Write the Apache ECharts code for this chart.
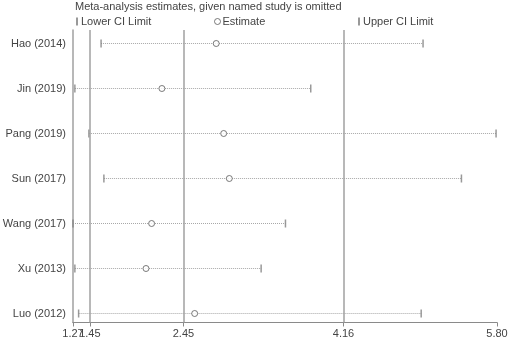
<!DOCTYPE html>
<html>
<head>
<meta charset="utf-8">
<script src="https://cdn.jsdelivr.net/npm/echarts@6/dist/echarts.min.js"></script>
<style>
  html, body { margin: 0; padding: 0; background: #fff; }
  #forest { width: 512px; height: 341px; }
</style>
</head>
<body>
<div id="forest"></div>
<script>
// studies, top to bottom
var studies = ['Hao (2014)', 'Jin (2019)', 'Pang (2019)', 'Sun (2017)', 'Wang (2017)', 'Xu (2013)', 'Luo (2012)'];
var lowerCI = [1.57, 1.29, 1.44, 1.60, 1.27, 1.29, 1.33];
var estimate = [2.80, 2.22, 2.88, 2.94, 2.11, 2.05, 2.57];
var upperCI = [5.01, 3.81, 5.79, 5.42, 3.54, 3.28, 4.99];
// x ticks shown on the axis
var xTicks = [1.27, 1.45, 2.45, 4.16, 5.80];
// reference lines
var refLines = [1.45, 2.45, 4.16];

$chart = echarts.init(document.getElementById('forest'), null, {renderer: 'canvas'});

var rows = studies.map(function(s, i) { return i; });
var txt = '#444';
var gry = '#a0a0a0';
var font = 'Arial, "Liberation Sans", sans-serif';

function pair(vals) {
    return vals.map(function(v, i) { return [v, i]; });
}

function xAxisOf(labels, showLine) {
    // labels 1.27 and 1.45 overlap, so the second one sits on its own axis
    return {
        type: 'value', min: 1.27, max: 5.80, position: 'bottom',
        axisLine: {show: showLine, onZero: false, lineStyle: {color: '#8a8a8a', width: 1.2}},
        axisTick: {show: showLine, length: 4, customValues: xTicks, lineStyle: {color: '#8a8a8a'}},
        axisLabel: {customValues: labels, color: txt, fontSize: 11, fontFamily: font, margin: 6,
                    showMinLabel: true, showMaxLabel: true, hideOverlap: false,
                    formatter: function(v) { return v.toFixed(2); }},
        splitLine: {show: false}
    };
}

var option = {
    animation: false,
    backgroundColor: '#fff',
    title: {
        text: 'Meta-analysis estimates, given named study is omitted',
        left: 70, top: -4,
        textStyle: {fontSize: 11, fontWeight: 'normal', color: txt, fontFamily: font}
    },
    legend: [
        {data: ['Lower CI Limit'], left: 71, top: 11, itemWidth: 2, itemHeight: 8,
         textStyle: {fontSize: 11, color: txt, fontFamily: font, padding: [0, 0, 0, -2]}},
        {data: ['Estimate'], left: 209, top: 11, itemWidth: 6, itemHeight: 6,
         itemStyle: {borderWidth: 1},
         textStyle: {fontSize: 11, color: txt, fontFamily: font, padding: [0, 0, 0, -3]}},
        {data: ['Upper CI Limit'], left: 353, top: 11, itemWidth: 2, itemHeight: 8,
         textStyle: {fontSize: 11, color: txt, fontFamily: font, padding: [0, 0, 0, -2]}}
    ],
    grid: {left: 73, right: 15, top: 30, bottom: 18.5, containLabel: false, outerBoundsMode: 'none'},
    xAxis: [
        xAxisOf([1.27, 2.45, 4.16, 5.80], true),
        xAxisOf([1.45], false)
    ],
    yAxis: {
        type: 'value', inverse: true, min: -0.3, max: 6.2,
        axisLine: {show: true, onZero: false, lineStyle: {color: gry, width: 1.5}},
        axisTick: {show: false},
        axisLabel: {customValues: rows, color: txt, fontSize: 11, fontFamily: font, margin: 7,
                    formatter: function(v) { return studies[v] || ''; }},
        splitLine: {show: false}
    },
    series: [
        {
            name: 'range', type: 'custom', silent: true,
            data: rows.map(function(i) { return [lowerCI[i], upperCI[i], i]; }),
            renderItem: function(params, api) {
                var a = api.coord([api.value(0), api.value(2)]);
                var b = api.coord([api.value(1), api.value(2)]);
                return {
                    type: 'line',
                    shape: {x1: a[0], y1: a[1], x2: b[0], y2: b[1]},
                    style: {stroke: '#a8a8a8', lineWidth: 1, lineDash: [1, 1]}
                };
            },
            z: 1,
            markLine: {
                silent: true, symbol: 'none', label: {show: false},
                lineStyle: {color: gry, width: 1.5, type: 'solid'},
                data: refLines.map(function(v) { return {xAxis: v}; })
            }
        },
        {
            name: 'Lower CI Limit', type: 'scatter', symbol: 'rect', symbolSize: [1.5, 8],
            itemStyle: {color: '#808080'}, data: pair(lowerCI), z: 3
        },
        {
            name: 'Estimate', type: 'scatter', symbol: 'circle', symbolSize: 6,
            itemStyle: {color: '#fff', borderColor: '#5a5a5a', borderWidth: 1}, data: pair(estimate), z: 4
        },
        {
            name: 'Upper CI Limit', type: 'scatter', symbol: 'rect', symbolSize: [1.5, 8],
            itemStyle: {color: '#808080'}, data: pair(upperCI), z: 3
        }
    ]
};
$chart.setOption(option);
</script>
</body>
</html>
